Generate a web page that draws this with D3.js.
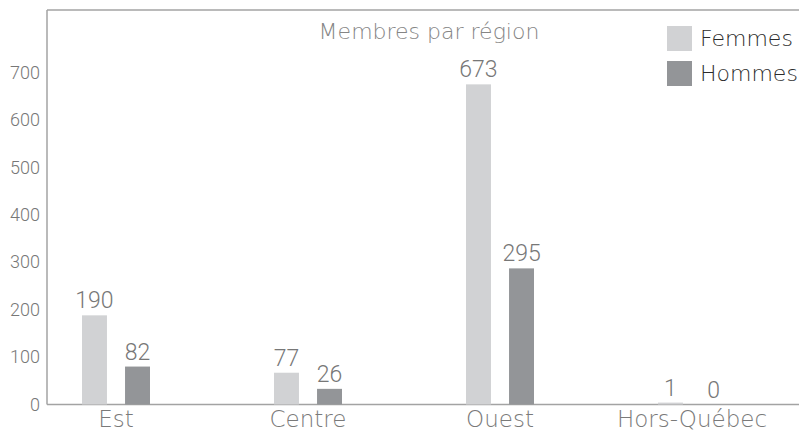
<!DOCTYPE html>
<html>
<head>
<meta charset="utf-8">
<script src="https://cdn.jsdelivr.net/npm/d3@7"></script>
<style>
  html, body { margin: 0; padding: 0; background: #fff; }
  svg { display: block; }
  .num { font-family: Roboto, "Liberation Sans", sans-serif; font-weight: 300; fill: #777; }
  .txt { font-family: "DejaVu Sans", sans-serif; font-weight: 200; }
</style>
</head>
<body>
<div id="chart"></div>
<script>
const regions = ['Est', 'Centre', 'Ouest', 'Hors-Québec'];
const seriesNames = ['Femmes', 'Hommes'];
// bar heights as drawn in the picture
const femmesBars = [188, 67, 675, 4];
const hommesBars = [80, 33, 287, 0];
// printed value labels
const femmesLabels = ['190', '77', '673', '1'];
const hommesLabels = ['82', '26', '295', '0'];
const yTicks = [0, 100, 200, 300, 400, 500, 600, 700];
const title = 'Membres par région';

const colors = { Femmes: '#d1d2d4', Hommes: '#939598' };

const W = 799, H = 433;
const svg = d3.select('#chart').append('svg')
  .attr('width', W)
  .attr('height', H);

const x = d3.scaleBand().domain(regions).range([20, 788]);
const xSub = d3.scaleBand().domain(seriesNames).range([-34, 34]).paddingInner(0.42);
const y = d3.scaleLinear().domain([0, 700]).range([404.5, 72.5]);

const frameLeft = 47, frameTop = 10;

// frame: top line, left line, baseline
svg.append('line')
  .attr('x1', frameLeft).attr('x2', W).attr('y1', frameTop).attr('y2', frameTop)
  .attr('stroke', '#a3a3a3').attr('stroke-width', 1.5);
svg.append('line')
  .attr('x1', frameLeft).attr('x2', frameLeft).attr('y1', frameTop).attr('y2', y(0))
  .attr('stroke', '#a3a3a3').attr('stroke-width', 1.5);
svg.append('line')
  .attr('x1', frameLeft).attr('x2', W).attr('y1', y(0)).attr('y2', y(0))
  .attr('stroke', '#a3a3a3').attr('stroke-width', 1.5);

// y tick labels
const yAxis = svg.append('g')
  .attr('transform', `translate(${frameLeft},0)`)
  .call(d3.axisLeft(y).tickValues(yTicks).tickSize(0).tickPadding(7));
yAxis.select('.domain').remove();
yAxis.selectAll('text')
  .attr('class', 'num')
  .style('font-size', '18px')
  .attr('fill', '#777');

// x category labels
const xAxis = svg.append('g')
  .attr('transform', `translate(0,${y(0)})`)
  .call(d3.axisBottom(x).tickSize(0).tickPadding(6));
xAxis.select('.domain').remove();
xAxis.selectAll('text')
  .attr('class', 'txt')
  .style('font-size', '23px')
  .attr('fill', '#7a7a7a')
  .attr('dy', '0.7em');

const rows = regions.map((r, i) => ({
  region: r,
  bars: [
    { key: 'Femmes', value: femmesBars[i], label: femmesLabels[i] },
    { key: 'Hommes', value: hommesBars[i], label: hommesLabels[i] }
  ]
}));

const groups = svg.selectAll('.grp')
  .data(rows)
  .enter().append('g')
  .attr('class', 'grp')
  .attr('transform', d => `translate(${x(d.region) + x.bandwidth() / 2},0)`);

groups.selectAll('rect')
  .data(d => d.bars)
  .enter().append('rect')
  .attr('x', d => xSub(d.key))
  .attr('width', xSub.bandwidth())
  .attr('y', d => y(d.value))
  .attr('height', d => y(0) - y(d.value))
  .attr('fill', d => colors[d.key]);

groups.selectAll('.val')
  .data(d => d.bars)
  .enter().append('text')
  .attr('class', 'val num')
  .attr('x', d => xSub(d.key) + xSub.bandwidth() / 2)
  .attr('y', d => y(d.value) - 7)
  .attr('text-anchor', 'middle')
  .style('font-size', '23px')
  .text(d => d.label);

// title
svg.append('text')
  .attr('class', 'txt')
  .attr('x', 429)
  .attr('y', 39)
  .attr('text-anchor', 'middle')
  .attr('fill', '#858585')
  .style('font-size', '22px')
  .text(title);

// legend
const legend = svg.selectAll('.leg')
  .data(seriesNames)
  .enter().append('g')
  .attr('class', 'leg')
  .attr('transform', (d, i) => `translate(667,${26 + i * 35})`);
legend.append('rect')
  .attr('width', 25).attr('height', 25)
  .attr('fill', d => colors[d]);
legend.append('text')
  .attr('class', 'txt')
  .attr('x', 33)
  .attr('y', 12.5)
  .attr('dy', '0.36em')
  .attr('fill', '#2b2b2b')
  .style('font-size', '22px')
  .text(d => d);
</script>
</body>
</html>
